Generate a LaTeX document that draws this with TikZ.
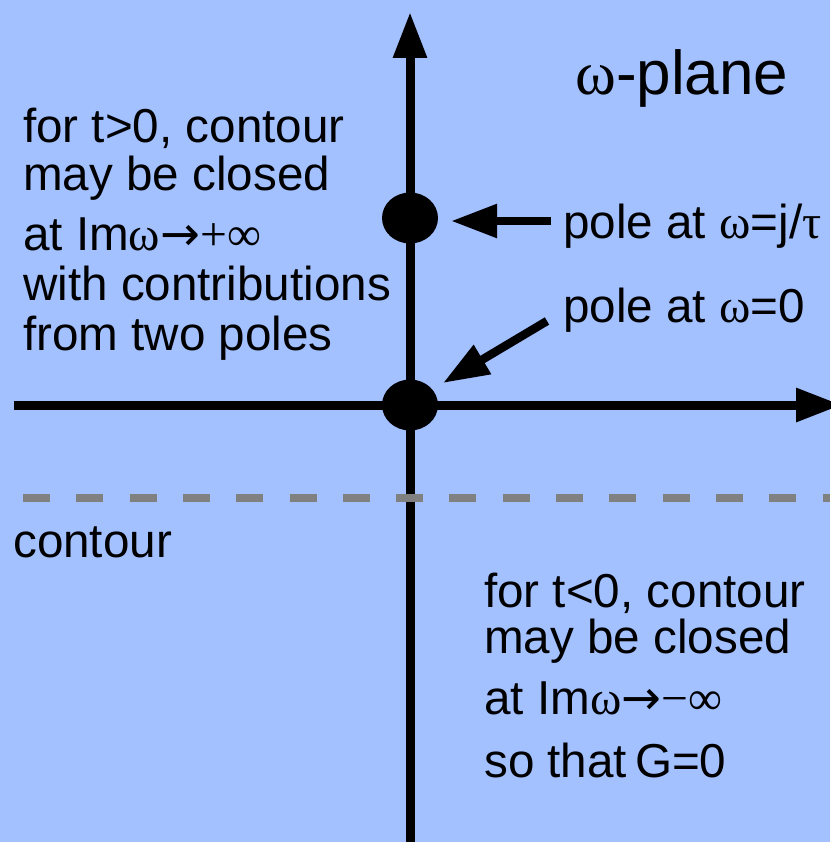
\documentclass[tikz,border=0pt]{standalone}
\usepackage{fontspec}
\setmainfont{Liberation Sans}
\newfontfamily\grk{Liberation Serif}
\newfontfamily\arw{DejaVu Sans}
\usetikzlibrary{arrows.meta,shapes.geometric}
\definecolor{bgblue}{RGB}{163,192,255}
\definecolor{dashgray}{RGB}{128,128,128}
\begin{document}
\begin{tikzpicture}[x=1pt,y=-1pt,
  axis/.style={line width=9pt, -{Triangle[width=32pt,length=46pt]}},
  ptr/.style={line width=8.5pt, -{Triangle[width=32pt,length=46pt]}},
  pole/.style={ellipse, fill=black, minimum width=56pt, minimum height=51pt, inner sep=0pt},
  txt/.style={anchor=base west, inner sep=0pt, font=\fontsize{47.6}{47.6}\selectfont},
  big/.style={anchor=base west, inner sep=0pt, font=\fontsize{62}{62}\selectfont}]
\fill[bgblue] (0,0) rectangle (830,842);
\useasboundingbox (0,0) rectangle (830,842);
% axes
\coordinate (vb) at (410,842);
\coordinate (vt) at (410,12);
\coordinate (hl) at (14,405);
\coordinate (hr) at (842,405);
\draw[axis] (vb) -- (vt);
\draw[axis] (hl) -- (hr);
% contour (dashed)
\coordinate (dl) at (23,498);
\coordinate (dr) at (830,498);
\draw[dashgray, line width=8pt, dash pattern=on 27pt off 26.3pt] (dl) -- (dr);
% poles
\node[pole] (p1) at (410,218) {};
\node[pole] (p0) at (410,405) {};
% pointers
\coordinate (a1s) at (551,221);
\coordinate (a1e) at (451,221);
\draw[ptr] (a1s) -- (a1e);
\coordinate (a0s) at (547,321);
\coordinate (a0e) at (443,383);
\draw[ptr] (a0s) -- (a0e);
% texts
\node[big] (title) at (575,95) {{\grk ω}-plane};
\node[txt] (lab1) at (563,238) {pole at {\grk ω}=j/{\grk τ}};
\node[txt] (lab0) at (563,322) {pole at {\grk ω}=0};
\node[txt] (la) at (23,143) {for t>0, contour};
\node[txt] (lb) at (23,191) {may be closed};
\node[txt] (lc) at (23,250) {at Im{\grk ω}{\arw →}{\grk +∞}};
\node[txt] (ld) at (23,300) {with contributions};
\node[txt] (le) at (23,350) {from two poles};
\node[txt] (ct) at (13,557) {contour};
\node[txt] (ra) at (484,607) {for t<0, contour};
\node[txt] (rb) at (484,653) {may be closed};
\node[txt] (rc) at (484,714) {at Im{\grk ω}{\arw →}{\grk −∞}};
\node[txt] (rd) at (484,777) {so that\,G=0};
\end{tikzpicture}
\end{document}
